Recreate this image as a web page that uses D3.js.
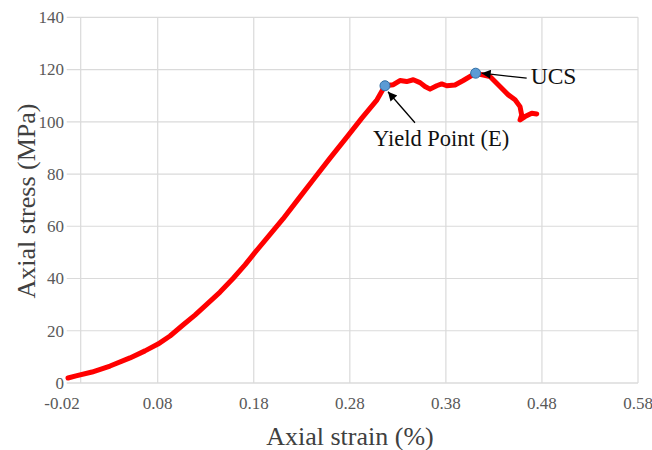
<!DOCTYPE html>
<html>
<head>
<meta charset="utf-8">
<script src="https://cdn.jsdelivr.net/npm/d3@7"></script>
<style>
  html, body { margin: 0; padding: 0; background: #fff; }
  svg { display: block; }
</style>
</head>
<body>
<svg id="chart" width="652" height="450"></svg>
<script>
// Stress–strain curve of the rock specimen
const strain = [-0.0365, -0.0261, -0.0053, 0.0181, 0.0440, 0.0635, 0.0803, 0.0928, 0.1063, 0.1188, 0.1313,
  0.1449, 0.1584, 0.1709, 0.1813, 0.1948, 0.2104, 0.2261, 0.2417, 0.2594, 0.2771, 0.2927, 0.3083, 0.3166,
  0.3253, 0.3322, 0.3392, 0.3461, 0.3531, 0.3583, 0.3635, 0.3704, 0.3757, 0.3809, 0.3895, 0.3981, 0.4110,
  0.4259, 0.4363, 0.4450, 0.4520, 0.4572, 0.4589, 0.4572, 0.4624, 0.4694, 0.4746];
const stress = [1.9, 2.7, 4.2, 6.5, 9.6, 12.3, 14.9, 18.0, 22.2, 26.0, 30.2,
  34.8, 40.0, 45.2, 50.0, 55.9, 62.8, 70.3, 77.7, 86.1, 94.2, 101.5, 108.4, 113.8,
  114.2, 115.8, 115.4, 116.1, 115.0, 113.5, 112.5, 113.8, 114.5, 113.8, 114.1, 115.8, 118.6,
  117.3, 113.5, 110.3, 108.4, 105.8, 102.6, 100.7, 102.0, 103.3, 103.0];

// Highlighted points
const markerLabels = ["Yield Point (E)", "UCS"];
const markerStrain = [0.3166, 0.4110];
const markerStress = [113.8, 118.6];

// Axis ticks
const xTickValues = [-0.02, 0.08, 0.18, 0.28, 0.38, 0.48, 0.58];
const xTickLabels = ["-0.02", "0.08", "0.18", "0.28", "0.38", "0.48", "0.58"];
const yTickValues = [0, 20, 40, 60, 80, 100, 120, 140];

const svg = d3.select("#chart");
const serif = "'Liberation Serif', 'Times New Roman', serif";

const plotLeft = 80.7, plotRight = 638, plotTop = 17.3, plotBottom = 383;

// The first interval of the strain axis is drawn narrower than the others
const x = d3.scaleLinear().domain([-0.02, 0.08, 0.58]).range([plotLeft, 157.7, plotRight]);
const y = d3.scaleLinear().domain([0, 140]).range([plotBottom, plotTop]);

svg.append("rect").attr("width", 652).attr("height", 450).attr("fill", "#fff");

// Grid
const grid = svg.append("g");
grid.selectAll("line.h").data(yTickValues).join("line")
  .attr("x1", plotLeft - 14).attr("x2", plotRight)
  .attr("y1", d => y(d)).attr("y2", d => y(d))
  .attr("stroke", d => d === 0 ? "#c9c9c9" : "#dadada").attr("stroke-width", 1.2);
grid.selectAll("line.v").data(xTickValues).join("line")
  .attr("x1", d => x(d)).attr("x2", d => x(d))
  .attr("y1", plotTop).attr("y2", plotBottom)
  .attr("stroke", "#dadada").attr("stroke-width", 1.2);

// Tick labels
svg.append("g").selectAll("text").data(yTickValues).join("text")
  .attr("x", 64).attr("y", d => y(d))
  .attr("dy", "0.35em").attr("text-anchor", "end")
  .attr("font-family", serif).attr("font-size", 17).attr("fill", "#595959")
  .text(d => d);
svg.append("g").selectAll("text").data(xTickValues).join("text")
  .attr("x", (d, i) => i === 0 ? x(d) - 1 : x(d)).attr("y", 403)
  .attr("dy", "0.35em").attr("text-anchor", (d, i) => i === 0 ? "end" : "middle")
  .attr("font-family", serif).attr("font-size", 17).attr("fill", "#595959")
  .text((d, i) => xTickLabels[i]);

// Axis titles
svg.append("text")
  .attr("transform", "translate(26,201) rotate(-90)")
  .attr("text-anchor", "middle").attr("dy", "0.35em")
  .attr("font-family", serif).attr("font-size", 26).attr("fill", "#404040")
  .text("Axial stress (MPa)");
svg.append("text")
  .attr("x", 350).attr("y", 436)
  .attr("text-anchor", "middle").attr("dy", "0.35em")
  .attr("font-family", serif).attr("font-size", 26).attr("fill", "#404040")
  .text("Axial strain (%)");

// Curve
const pts = strain.map((s, i) => [s, stress[i]]);
svg.append("path")
  .datum(pts)
  .attr("d", d3.line().x(d => x(d[0])).y(d => y(d[1])))
  .attr("fill", "none").attr("stroke", "#ff0000")
  .attr("stroke-width", 5).attr("stroke-linejoin", "round").attr("stroke-linecap", "round");

// Arrow heads
svg.append("defs").append("marker")
  .attr("id", "arrow").attr("viewBox", "0 0 10 10")
  .attr("refX", 10).attr("refY", 5)
  .attr("markerWidth", 12).attr("markerHeight", 9)
  .attr("markerUnits", "userSpaceOnUse")
  .attr("orient", "auto")
  .append("path").attr("d", "M0,0 L10,5 L0,10 Z").attr("fill", "#000");

const mx = markerStrain.map(v => x(v));
const my = markerStress.map(v => y(v));

// Yield point annotation
svg.append("line")
  .attr("x1", mx[0] + 30).attr("y1", my[0] + 37)
  .attr("x2", mx[0] + 3).attr("y2", my[0] + 6)
  .attr("stroke", "#000").attr("stroke-width", 1.3).attr("marker-end", "url(#arrow)");
svg.append("text")
  .attr("x", mx[0] - 12).attr("y", my[0] + 52).attr("dy", "0.35em")
  .attr("font-family", serif).attr("font-size", 22.5).attr("fill", "#111")
  .text(markerLabels[0]);

// UCS annotation
svg.append("line")
  .attr("x1", mx[1] + 51).attr("y1", my[1] + 5)
  .attr("x2", mx[1] + 6).attr("y2", my[1])
  .attr("stroke", "#000").attr("stroke-width", 1.3).attr("marker-end", "url(#arrow)");
svg.append("text")
  .attr("x", mx[1] + 55).attr("y", my[1] + 3).attr("dy", "0.35em")
  .attr("font-family", serif).attr("font-size", 23.5).attr("fill", "#111")
  .text(markerLabels[1]);

// Markers
svg.append("g").selectAll("circle").data(markerStrain).join("circle")
  .attr("cx", d => x(d)).attr("cy", (d, i) => y(markerStress[i]))
  .attr("r", 5).attr("fill", "#5b9bd5").attr("stroke", "#2f6ea5").attr("stroke-width", 1);
</script>
</body>
</html>
